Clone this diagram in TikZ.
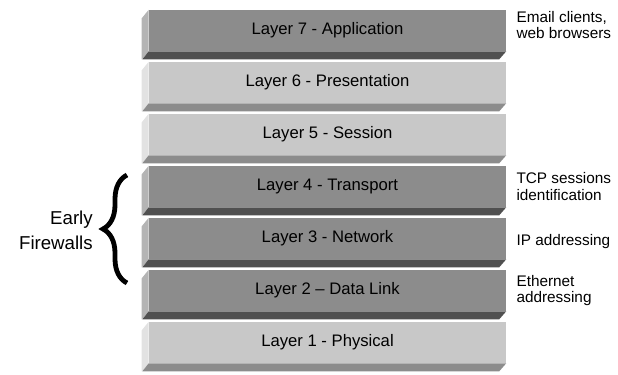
\documentclass[tikz,border=0pt]{standalone}
\usepackage{fontspec}
\setmainfont{Liberation Sans}
\usetikzlibrary{positioning,decorations.pathreplacing}

\definecolor{darkface}{HTML}{8C8C8C}
\definecolor{darkside}{HTML}{B4B4B4}
\definecolor{darkbase}{HTML}{505050}
\definecolor{lightface}{HTML}{C8C8C8}
\definecolor{lightside}{HTML}{E2E2E2}
\definecolor{lightbase}{HTML}{8C8C8C}

\begin{document}
\begin{tikzpicture}[x=0.75pt, y=-0.75pt,
  layer/.style={minimum width=267.75pt, minimum height=30.75pt, inner sep=0pt, font=\fontsize{12.5}{14}\selectfont},
  darklayer/.style={layer, fill=darkface},
  lightlayer/.style={layer, fill=lightface},
  note/.style={align=left, inner sep=0pt, font=\fontsize{11.5}{12.5}\selectfont},
  brace/.style={decorate, decoration={brace, amplitude=18pt}, line width=3.6pt}
]
\useasboundingbox (0,0) rectangle (618,375);

\node[darklayer]  (app)  at (327.5,30.5)  {Layer 7 - Application};
\node[lightlayer] (pres) at (327.5,82.5)  {Layer 6 - Presentation};
\node[lightlayer] (sess) at (327.5,134.5) {Layer 5 - Session};
\node[darklayer]  (trans) at (327.5,186.5) {Layer 4 - Transport};
\node[darklayer]  (net)  at (327.5,238.5) {Layer 3 - Network};
\node[darklayer]  (link) at (327.5,290.5) {Layer 2 -- Data Link};
\node[lightlayer] (phys) at (327.5,342.5) {Layer 1 - Physical};

% bevelled left and bottom edges
\foreach \lay/\side/\base in {app/darkside/darkbase, pres/lightside/lightbase,
    sess/lightside/lightbase, trans/darkside/darkbase, net/darkside/darkbase,
    link/darkside/darkbase, phys/lightside/lightbase} {
  \fill[\side] (\lay.north west) -- (\lay.south west) -- ++(-7,8) -- ++(0,-41) -- cycle;
  \fill[\base] (\lay.south west) -- (\lay.south east) -- ++(-7,8) -- ++(-357,0) -- cycle;
}

\node[note, right=7.5pt of app, yshift=4pt] (apps) {Email clients,\\web browsers};
\node[note, right=7.5pt of trans] (tcp) {TCP sessions\\identification};
\node[note, right=7.5pt of net, yshift=-2pt] (ip) {IP addressing};
\node[note, right=7.5pt of link] (eth) {Ethernet\\addressing};

\node[align=right, inner sep=0pt, anchor=east, font=\fontsize{14}{18.5}\selectfont] (early) at (93,230) {Early\\Firewalls};
\coordinate (bracetop) at (127,175);
\coordinate (bracebot) at (127,283);
\draw[brace] (bracebot) -- (bracetop);
\end{tikzpicture}
\end{document}
